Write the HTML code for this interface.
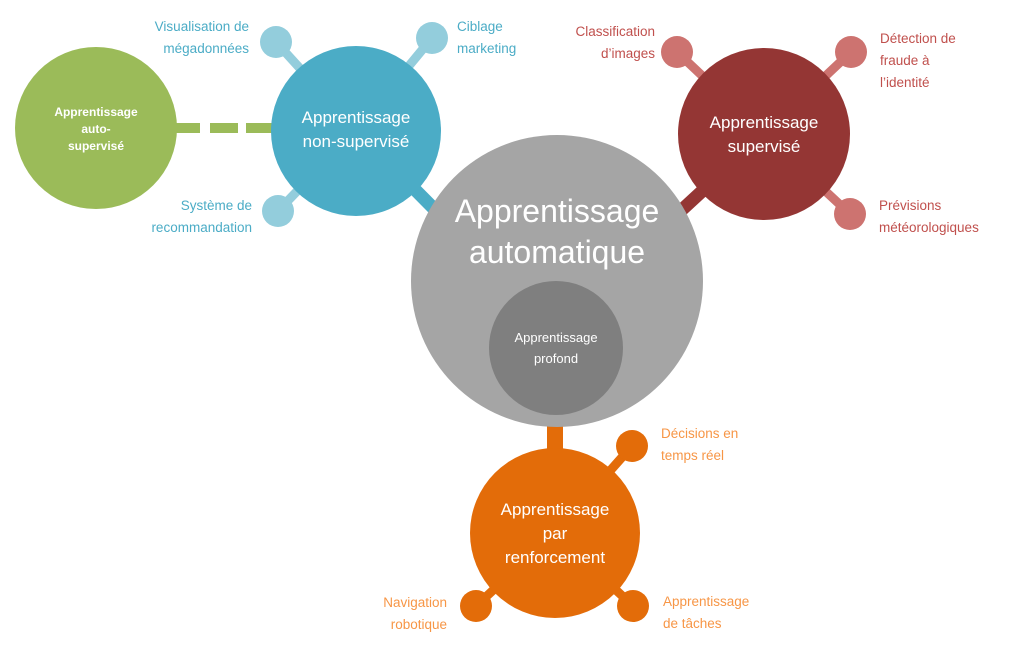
<!DOCTYPE html>
<html><head><meta charset="utf-8"><style>
html,body{margin:0;padding:0;background:#fff;}
svg{display:block;font-family:"Liberation Sans","DejaVu Sans",sans-serif;}
</style></head><body>
<svg width="1024" height="652" viewBox="0 0 1024 652" xmlns="http://www.w3.org/2000/svg">
<g stroke-linecap="butt">
<line x1="356" y1="130" x2="276" y2="42" stroke="#93cddc" stroke-width="9"/>
<line x1="356" y1="130" x2="432" y2="38" stroke="#93cddc" stroke-width="9"/>
<line x1="356" y1="130" x2="278" y2="211" stroke="#93cddc" stroke-width="9"/>
<line x1="356" y1="130" x2="450" y2="225" stroke="#4bacc6" stroke-width="13"/>
<line x1="764" y1="134" x2="677" y2="52" stroke="#cd7370" stroke-width="9"/>
<line x1="764" y1="134" x2="851" y2="52" stroke="#cd7370" stroke-width="9"/>
<line x1="764" y1="134" x2="850" y2="214" stroke="#cd7370" stroke-width="9"/>
<line x1="764" y1="134" x2="660" y2="230" stroke="#943634" stroke-width="13"/>
<line x1="555" y1="533" x2="632" y2="446" stroke="#e36c09" stroke-width="9"/>
<line x1="555" y1="533" x2="476" y2="606" stroke="#e36c09" stroke-width="9"/>
<line x1="555" y1="533" x2="633" y2="606" stroke="#e36c09" stroke-width="9"/>
<rect x="547" y="400" width="16" height="60" fill="#e36c09"/>
</g>
<rect x="176" y="123" width="24" height="10" fill="#9bbb59"/>
<rect x="210" y="123" width="28" height="10" fill="#9bbb59"/>
<rect x="246" y="123" width="30" height="10" fill="#9bbb59"/>
<circle cx="276" cy="42" r="16" fill="#93cddc"/>
<circle cx="432" cy="38" r="16" fill="#93cddc"/>
<circle cx="278" cy="211" r="16" fill="#93cddc"/>
<circle cx="677" cy="52" r="16" fill="#cd7370"/>
<circle cx="851" cy="52" r="16" fill="#cd7370"/>
<circle cx="850" cy="214" r="16" fill="#cd7370"/>
<circle cx="632" cy="446" r="16" fill="#e36c09"/>
<circle cx="476" cy="606" r="16" fill="#e36c09"/>
<circle cx="633" cy="606" r="16" fill="#e36c09"/>
<circle cx="96" cy="128" r="81" fill="#9bbb59"/>
<circle cx="356" cy="131" r="85" fill="#4bacc6"/>
<circle cx="764" cy="134" r="86" fill="#943634"/>
<circle cx="555" cy="533" r="85" fill="#e36c09"/>
<circle cx="557" cy="281" r="146" fill="#a5a5a5"/>
<circle cx="556" cy="348" r="67" fill="#7f7f7f"/>
<g fill="#fff" text-anchor="middle">
<text x="96" y="116" font-size="12" font-weight="bold">Apprentissage</text>
<text x="96" y="133" font-size="12" font-weight="bold">auto-</text>
<text x="96" y="150" font-size="12" font-weight="bold">supervisé</text>
<text x="356" y="123" font-size="17">Apprentissage</text>
<text x="356" y="147" font-size="17">non-supervisé</text>
<text x="764" y="128" font-size="17">Apprentissage</text>
<text x="764" y="152" font-size="17">supervisé</text>
<text x="555" y="515" font-size="17">Apprentissage</text>
<text x="555" y="539" font-size="17">par</text>
<text x="555" y="563" font-size="17">renforcement</text>
<text x="557" y="222" font-size="32">Apprentissage</text>
<text x="557" y="263" font-size="32">automatique</text>
<text x="556" y="342" font-size="13">Apprentissage</text>
<text x="556" y="363" font-size="13">profond</text>
</g>
<g font-size="13.5">
<g fill="#4bacc6" text-anchor="end">
<text x="249" y="31">Visualisation de</text>
<text x="249" y="53">mégadonnées</text>
<text x="252" y="210">Système de</text>
<text x="252" y="232">recommandation</text>
</g>
<g fill="#4bacc6">
<text x="457" y="31">Ciblage</text>
<text x="457" y="53">marketing</text>
</g>
<g fill="#c0504d" text-anchor="end">
<text x="655" y="36">Classification</text>
<text x="655" y="58">d’images</text>
</g>
<g fill="#c0504d">
<text x="880" y="43">Détection de</text>
<text x="880" y="65">fraude à</text>
<text x="880" y="87">l’identité</text>
<text x="879" y="210">Prévisions</text>
<text x="879" y="232">météorologiques</text>
</g>
<g fill="#f79646">
<text x="661" y="438">Décisions en</text>
<text x="661" y="460">temps réel</text>
<text x="663" y="606">Apprentissage</text>
<text x="663" y="628">de tâches</text>
</g>
<g fill="#f79646" text-anchor="end">
<text x="447" y="607">Navigation</text>
<text x="447" y="629">robotique</text>
</g>
</g>
</svg>
</body></html>
